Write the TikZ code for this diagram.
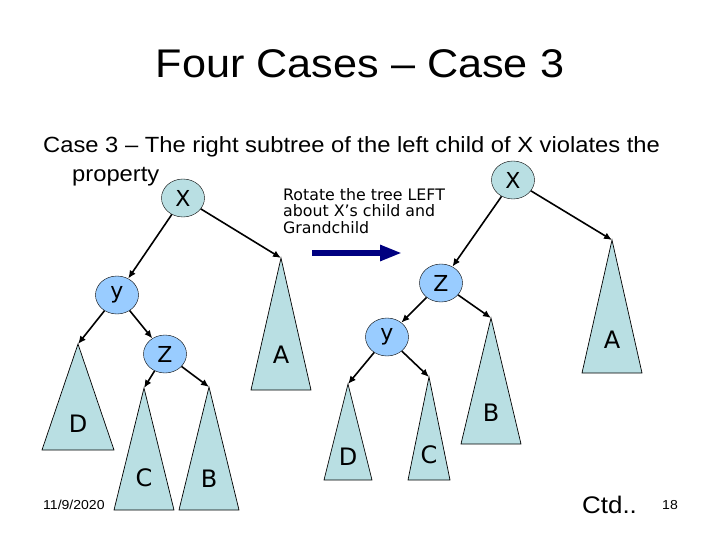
\documentclass[tikz,border=0pt]{standalone}
\usepackage{fontspec}
\setmainfont[FakeStretch=1.08]{Liberation Sans}
\newfontfamily\treefont{DejaVu Sans}
\usetikzlibrary{shapes.geometric,arrows.meta}
\definecolor{subtreefill}{RGB}{185,223,227}
\definecolor{childfill}{RGB}{153,204,255}
\definecolor{rotnavy}{RGB}{0,0,128}

\begin{document}
\begin{tikzpicture}[x=1pt, y=-1pt,
  rootnode/.style={draw=black, ellipse, fill=subtreefill, minimum width=43pt, minimum height=38pt, inner sep=0pt, font=\treefont\fontsize{22}{22}\selectfont},
  kidnode/.style={rootnode, fill=childfill},
  edge/.style={black, line width=1.6pt, -{Latex[length=8pt,width=7pt]}},
  subtree/.style={draw=black, line width=0.7pt, fill=subtreefill},
  letter/.style={font=\treefont\fontsize{24}{24}\selectfont, inner sep=0pt}]
\useasboundingbox (0,0) rectangle (720,540);
\node[anchor=base, font=\fontsize{40}{40}\selectfont] (title) at (360,78) {Four Cases – Case 3};
\node[anchor=base west, inner sep=0pt, font=\fontsize{22}{26}\selectfont] (body1) at (43,153) {Case 3 – The right subtree of the left child of X violates the};
\node[anchor=base west, inner sep=0pt, font=\fontsize{22}{26}\selectfont] (body2) at (72,182) {property};
\node[anchor=north west, align=left, inner sep=0pt, font=\treefont\fontsize{15.8}{16.5}\selectfont] (rotnote) at (283,188) {Rotate the tree LEFT\\about X’s child and\\Grandchild};
\coordinate (rotfrom) at (312,253);
\coordinate (rotto) at (402,253);
\draw[rotnavy, line width=6pt, -{Triangle[length=22pt,width=15pt]}] (rotfrom) -- (rotto);

\foreach \n/\x/\y/\w/\b/\l/\t in {A/281/258/30/390/355/A, D/78/344/36/450/424/D, C/144/388/30/510/478/C, B/209/387/30/510/479/B, A2/612/240/30/373/340/A, B2/491/318/30/444/413/B, D2/348/384/24/480/457/D, C2/429/377/21/480/455/C}{
  \draw[subtree] (\x,\y) coordinate (\n) -- (\x+\w,\b) -- (\x-\w,\b) -- cycle;
  \node[letter] (\n lab) at (\x,\l) {\t};
}

\node[rootnode] (xl) at (183,198) {X};
\node[kidnode] (yl) at (117,295) {y};
\node[kidnode] (zl) at (165,354) {Z};
\node[rootnode] (xr) at (513,180) {X};
\node[kidnode] (zr) at (441,283) {Z};
\node[kidnode] (yr) at (387,337) {y};
\foreach \a/\b in {xl/yl, xl/A, yl/D, yl/zl, zl/C, zl/B, xr/zr, xr/A2, zr/yr, zr/B2, yr/D2, yr/C2}
  \draw[edge] (\a) -- (\b);

\node[anchor=base west, inner sep=0pt, font=\fontsize{13}{13}\selectfont] (date) at (43,509) {11/9/2020};
\node[anchor=base west, inner sep=0pt, font=\fontsize{24}{24}\selectfont] (ctd) at (582,513) {Ctd..};
\node[anchor=base west, inner sep=0pt, font=\fontsize{13}{13}\selectfont] (page) at (662,509) {18};
\end{tikzpicture}
\end{document}
